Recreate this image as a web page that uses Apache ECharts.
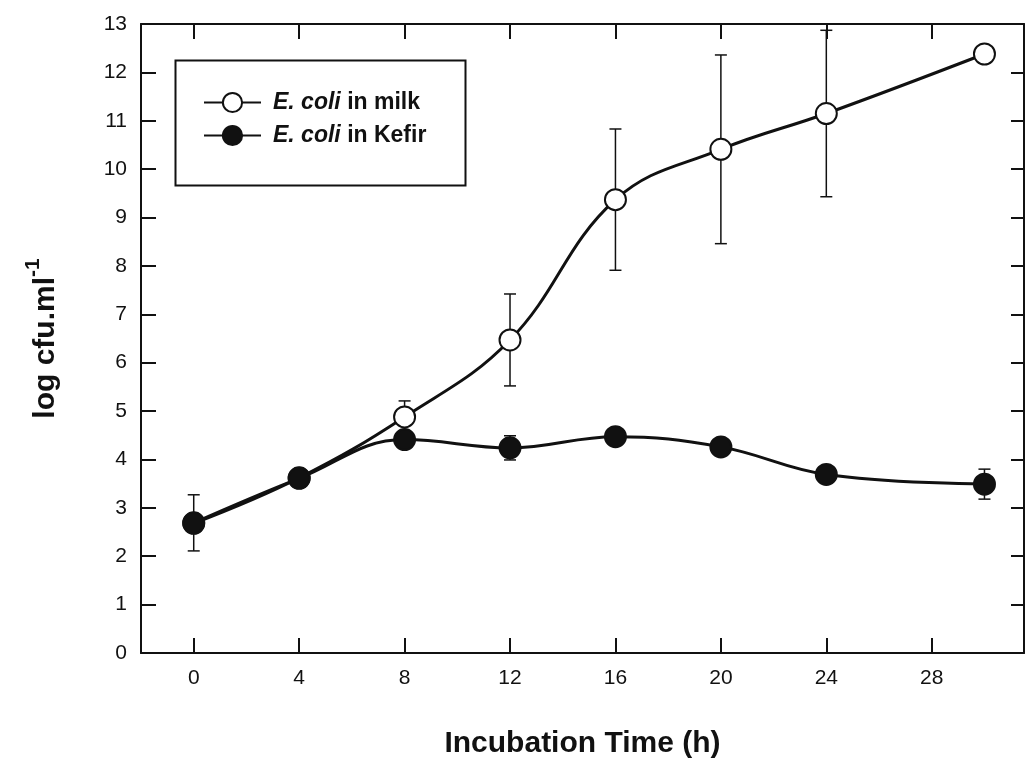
<!DOCTYPE html>
<html>
<head>
<meta charset="utf-8">
<script src="https://cdn.jsdelivr.net/npm/echarts@6/dist/echarts.min.js"></script>
<style>
  html, body { margin: 0; padding: 0; background: #fff; }
  #chart { width: 1027px; height: 768px; }
</style>
</head>
<body>
<div id="chart"></div>
<script>
// Sampling times (h) and mean log counts with their error bar half-widths
const hours = [0, 4, 8, 12, 16, 20, 24, 30];
const milkMean = [2.68, 3.62, 4.88, 6.47, 9.37, 10.41, 11.15, 12.38];
const milkErr = [0, 0, 0.33, 0.95, 1.46, 1.95, 1.72, 0];
const kefirMean = [2.69, 3.61, 4.41, 4.24, 4.47, 4.26, 3.69, 3.49];
const kefirErr = [0.58, 0, 0, 0.25, 0, 0, 0, 0.31];
const xTicks = [0, 4, 8, 12, 16, 20, 24, 28];
const seriesNames = ['E. coli in milk', 'E. coli in Kefir'];

const INK = '#111';
const FONT = '"Liberation Sans", Arial, Helvetica, sans-serif';

// Vertical error bars with short caps, drawn under the markers
function errorBars(id, means, errs) {
  const data = [];
  hours.forEach((h, i) => {
    if (errs[i] > 0) data.push([h, means[i] - errs[i], means[i] + errs[i]]);
  });
  return {
    type: 'custom',
    id: id,
    z: 1,
    silent: true,
    data: data,
    encode: { x: 0, y: [1, 2] },
    renderItem(params, api) {
      const lo = api.coord([api.value(0), api.value(1)]);
      const hi = api.coord([api.value(0), api.value(2)]);
      const hw = 6;
      const st = { stroke: INK, lineWidth: 1.5 };
      return {
        type: 'group',
        children: [
          { type: 'line', shape: { x1: lo[0], y1: lo[1], x2: hi[0], y2: hi[1] }, style: st },
          { type: 'line', shape: { x1: lo[0] - hw, y1: lo[1], x2: lo[0] + hw, y2: lo[1] }, style: st },
          { type: 'line', shape: { x1: hi[0] - hw, y1: hi[1], x2: hi[0] + hw, y2: hi[1] }, style: st }
        ]
      };
    }
  };
}

function pairs(means) {
  return hours.map((h, i) => [h, means[i]]);
}

const frameAxis = { show: true, onZero: false, lineStyle: { color: INK, width: 2 } };

const option = {
  backgroundColor: '#fff',
  animation: false,
  textStyle: { fontFamily: FONT },
  grid: { left: 141, right: 3, top: 24, bottom: 115, containLabel: false },
  xAxis: [
    {
      type: 'value', min: -2, max: 31.5, position: 'bottom',
      name: 'Incubation Time (h)', nameLocation: 'middle', nameGap: 76,
      nameTextStyle: { fontFamily: FONT, fontSize: 30, fontWeight: 'bold', color: INK },
      axisLine: frameAxis,
      axisTick: { show: true, inside: true, length: 15, customValues: xTicks, lineStyle: { color: INK, width: 2 } },
      axisLabel: { show: true, customValues: xTicks, margin: 15, fontSize: 21, color: INK, fontFamily: FONT },
      splitLine: { show: false }
    },
    {
      type: 'value', min: -2, max: 31.5, position: 'top',
      axisLine: frameAxis,
      axisTick: { show: true, inside: true, length: 15, customValues: xTicks, lineStyle: { color: INK, width: 2 } },
      axisLabel: { show: false },
      splitLine: { show: false }
    }
  ],
  yAxis: [
    {
      type: 'value', min: 0, max: 13, interval: 1, position: 'left',
      name: '{b|log cfu.ml}{s|-1}', nameLocation: 'middle', nameGap: 80,
      nameTextStyle: {
        color: INK,
        rich: {
          b: { fontFamily: FONT, fontSize: 30, fontWeight: 'bold', color: INK, lineHeight: 38, verticalAlign: 'bottom' },
          s: { fontFamily: FONT, fontSize: 21, fontWeight: 'bold', color: INK, lineHeight: 38, verticalAlign: 'top' }
        }
      },
      axisLine: frameAxis,
      axisTick: { show: true, inside: true, length: 15, lineStyle: { color: INK, width: 2 } },
      axisLabel: { show: true, margin: 14, fontSize: 21, color: INK, fontFamily: FONT },
      splitLine: { show: false }
    },
    {
      type: 'value', min: 0, max: 13, interval: 1, position: 'right',
      axisLine: frameAxis,
      axisTick: { show: true, inside: true, length: 13, lineStyle: { color: INK, width: 2 } },
      axisLabel: { show: false },
      splitLine: { show: false }
    }
  ],
  legend: {
    data: seriesNames,
    orient: 'vertical',
    left: 203, top: 91,
    padding: 0,
    itemWidth: 57, itemHeight: 24, itemGap: 10,
    selectedMode: false,
    formatter: name => '{sp|}{i|E. coli}' + name.slice(7),
    textStyle: {
      fontFamily: FONT, fontSize: 23, fontWeight: 'bold', color: INK,
      rich: {
        sp: { width: 7 },
        i: { fontFamily: FONT, fontSize: 23, fontWeight: 'bold', fontStyle: 'italic', color: INK }
      }
    }
  },
  graphic: [
    {
      type: 'rect', left: 173, top: 58, z: 0,
      shape: { width: 290, height: 125 },
      style: { fill: 'none', stroke: INK, lineWidth: 2 }
    }
  ],
  series: [
    errorBars('milkErr', milkMean, milkErr),
    errorBars('kefirErr', kefirMean, kefirErr),
    {
      name: seriesNames[0], type: 'line', z: 3,
      data: pairs(milkMean),
      smooth: 0.4,
      symbol: 'circle', symbolSize: 21,
      lineStyle: { color: INK, width: 3 },
      itemStyle: { color: '#fff', borderColor: INK, borderWidth: 2 },
      emphasis: { disabled: true }
    },
    {
      name: seriesNames[1], type: 'line', z: 4,
      data: pairs(kefirMean),
      smooth: 0.4,
      symbol: 'circle', symbolSize: 21,
      lineStyle: { color: INK, width: 3 },
      itemStyle: { color: INK, borderColor: INK, borderWidth: 2 },
      emphasis: { disabled: true }
    }
  ]
};

const chart = echarts.init(document.getElementById('chart'), null, { renderer: 'canvas' });
chart.setOption(option);
</script>
</body>
</html>
